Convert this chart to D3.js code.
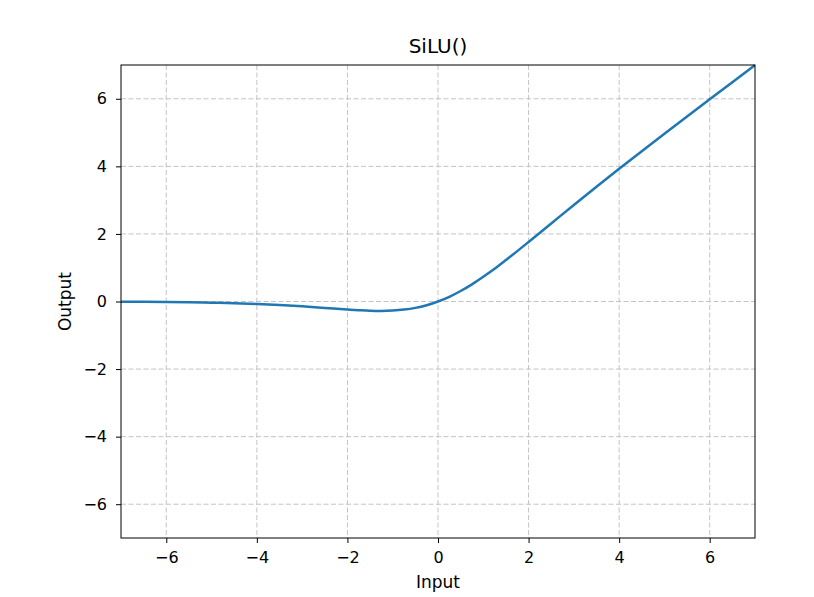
<!DOCTYPE html>
<html><head><meta charset="utf-8">
<script src="https://cdn.jsdelivr.net/npm/d3@7"></script>
<style>body{margin:0;background:#fff}text{font-family:"DejaVu Sans",sans-serif;fill:#000}</style>
</head><body><svg id="c" width="814" height="597"></svg>
<script>
const xs = [-7,-6.5,-6,-5.5,-5,-4.5,-4,-3.5,-3,-2.5,-2,-1.75,-1.5,-1.25,-1,-0.75,-0.5,-0.25,0,0.25,0.5,0.75,1,1.25,1.5,1.75,2,2.5,3,3.5,4,4.5,5,5.5,6,6.5,7];
const ys = [-0.006,-0.010,-0.015,-0.022,-0.034,-0.049,-0.072,-0.102,-0.142,-0.190,-0.238,-0.258,-0.274,-0.279,-0.269,-0.240,-0.189,-0.110,0,0.140,0.311,0.508,0.731,0.968,1.226,1.491,1.762,2.310,2.858,3.398,3.928,4.450,4.967,5.478,5.985,6.490,6.994];
const xTicks = [-6,-4,-2,0,2,4,6];
const yTicks = [-6,-4,-2,0,2,4,6];
const title = "SiLU()", xLabel = "Input", yLabel = "Output";

const svg = d3.select("#c");
const L=121,R=755,T=65,B=538;
const x = d3.scaleLinear().domain([-7,7]).range([L,R]);
const y = d3.scaleLinear().domain([-7,7]).range([B,T]);
const fmt = d => d<0 ? "\u2212"+Math.abs(d) : String(d);

const grid = svg.append("g");
xTicks.forEach(t=>grid.append("line").attr("x1",x(t)).attr("x2",x(t)).attr("y1",T).attr("y2",B));
yTicks.forEach(t=>grid.append("line").attr("y1",y(t)).attr("y2",y(t)).attr("x1",L).attr("x2",R));
grid.selectAll("line").attr("stroke","#c4c4c4").attr("stroke-width",1).attr("stroke-dasharray","5,2.5");

svg.append("defs").append("clipPath").attr("id","cp").append("rect").attr("x",L).attr("y",T-1).attr("width",R-L).attr("height",B-T+2);
const pts = xs.map((v,i)=>[v,ys[i]]);
svg.append("path").datum(pts).attr("clip-path","url(#cp)")
  .attr("d",d3.line().x(d=>x(d[0])).y(d=>y(d[1])).curve(d3.curveMonotoneX))
  .attr("fill","none").attr("stroke","#1f77b4").attr("stroke-width",2.5);

const xa = svg.append("g").attr("transform",`translate(0,${B})`)
  .call(d3.axisBottom(x).tickValues(xTicks).tickFormat(fmt).tickSizeInner(5).tickSizeOuter(0).tickPadding(9));
const ya = svg.append("g").attr("transform",`translate(${L},0)`)
  .call(d3.axisLeft(y).tickValues(yTicks).tickFormat(fmt).tickSizeInner(5).tickSizeOuter(0).tickPadding(9));
[xa,ya].forEach(a=>{a.select(".domain").remove();a.selectAll("text").style("font-size","16px").attr("font-family","DejaVu Sans").attr("fill","#000");a.selectAll("line").attr("stroke","#000").attr("stroke-width",1);});

svg.append("rect").attr("x",L).attr("y",T).attr("width",R-L).attr("height",B-T).attr("fill","none").attr("stroke","#000").attr("stroke-width",1);

svg.append("text").attr("x",(L+R)/2).attr("y",53).attr("text-anchor","middle").style("font-size","20px").text(title);
svg.append("text").attr("x",(L+R)/2).attr("y",588).attr("text-anchor","middle").style("font-size","17px").text(xLabel);
svg.append("text").attr("transform",`translate(71,${(T+B)/2}) rotate(-90)`).attr("text-anchor","middle").style("font-size","17px").text(yLabel);
</script></body></html>
